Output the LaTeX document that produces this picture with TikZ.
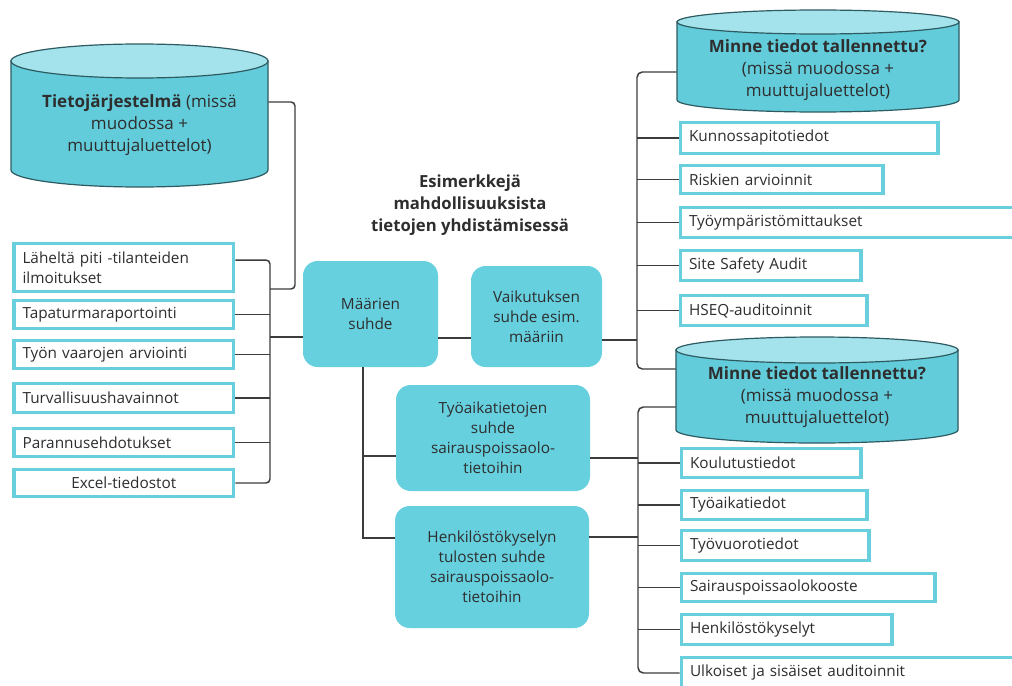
\documentclass[tikz,border=0pt]{standalone}
\usepackage{fontspec}
\setmainfont{Open Sans}
\definecolor{boxc}{HTML}{6ACFDD}
\definecolor{fillc}{HTML}{66D0DF}
\definecolor{cylbody}{HTML}{62CCDB}
\definecolor{cyltop}{HTML}{A5E3EC}
\definecolor{cylline}{HTML}{2D5B61}
\definecolor{txt}{HTML}{2E2E2E}
\definecolor{connc}{HTML}{3C3C3C}
\newcommand\drawcyl[5]{%
  \pgfmathsetmacro\cylrx{(#2-#1)*0.375}%
  \pgfmathsetmacro\cylry{#5*0.75}%
  \pgfmathsetmacro\cylcx{(#1+#2)/2}%
  \filldraw[cylstyle, fill=cylbody] (#1,#3) -- (#1,#4) arc[start angle=180, end angle=360, x radius=\cylrx pt, y radius=\cylry pt] -- (#2,#3) -- cycle;
  \filldraw[cylstyle, fill=cyltop] (\cylcx,#3) ellipse[x radius=\cylrx pt, y radius=\cylry pt];
}
\begin{document}
\begin{tikzpicture}[x=0.75pt,y=-0.75pt,
  every node/.style={text=txt, font=\fontsize{11.5}{15}\selectfont},
  conn/.style={draw=connc, line width=1.1pt},
  sbox/.style={draw=boxc, line width=2.5pt, fill=white, anchor=west, align=left, inner xsep=6.5pt, inner ysep=1pt, text width=#1},
  rbox/.style={fill=fillc, rounded corners=11pt, align=center, inner sep=0pt},
  cyltext/.style={align=center, font=\fontsize{12.75}{16.5}\selectfont, inner sep=0pt},
  cylstyle/.style={draw=cylline, line width=0.9pt}]
\useasboundingbox (0,0) rectangle (1012,685);
\clip (0,0) rectangle (1012,685);
\fill[white] (0,0) rectangle (1012,685);

% cylinders
\drawcyl{11}{268}{61}{170}{17}
\node[cyltext, minimum width=192.75pt] (cylL) at (139.5,125) {\textbf{Tietojärjestelmä} (missä\\muodossa +\\muuttujaluettelot)};
\drawcyl{677}{959}{22}{100}{12}
\node[cyltext, minimum width=211.5pt] (cyl1) at (818,70) {\textbf{Minne tiedot tallennettu?}\\(missä muodossa +\\muuttujaluettelot)};
\drawcyl{676}{958}{350}{430}{13}
\node[cyltext, minimum width=211.5pt] (cyl2) at (817,397) {\textbf{Minne tiedot tallennettu?}\\(missä muodossa +\\muuttujaluettelot)};

% left boxes
\node[sbox=151.8pt, minimum height=35.8pt] (b1) at (12.2,267.5) {Läheltä piti -tilanteiden\\ilmoitukset};
\node[sbox=151.8pt, minimum height=20.8pt] (b2) at (12.2,314.5) {Tapaturmaraportointi};
\node[sbox=151.8pt, minimum height=20.8pt] (b3) at (12.2,354.5) {Työn vaarojen arviointi};
\node[sbox=151.8pt, minimum height=21.5pt] (b4) at (12.2,398) {Turvallisuushavainnot};
\node[sbox=151.8pt, minimum height=20.8pt] (b5) at (12.2,442.5) {Parannusehdotukset};
\node[sbox=151.8pt, minimum height=20.3pt, align=center] (b6) at (12.2,483) {Excel-tiedostot};

% title
\node[font=\bfseries\fontsize{12.5}{16.5}\selectfont, align=center] (title) at (470,205) {Esimerkkejä\\mahdollisuuksista\\tietojen yhdistämisessä};

% rounded boxes
\node[rbox, minimum width=101.25pt, minimum height=79.5pt] (m) at (370.5,314) {Määrien\\suhde};
\node[rbox, minimum width=98.25pt, minimum height=75.75pt] (v) at (536.5,316.5) {Vaikutuksen\\suhde esim.\\määriin};
\node[rbox, minimum width=145.5pt, minimum height=79.5pt] (t) at (493,438) {Työaikatietojen\\suhde\\sairauspoissaolo-\\tietoihin};
\node[rbox, minimum width=145.5pt, minimum height=91.5pt] (h) at (492,567) {Henkilöstökyselyn\\tulosten suhde\\sairauspoissaolo-\\tietoihin};

% right boxes, upper
\node[sbox=180.3pt, minimum height=23pt] (k1) at (678.7,138) {Kunnossapitotiedot};
\node[sbox=139pt, minimum height=20.8pt] (k2) at (678.7,179.5) {Riskien arvioinnit};
\node[sbox=249.5pt, minimum height=22.3pt] (k3) at (678.7,222.5) {Työympäristömittaukset};
\node[sbox=122.5pt, minimum height=22.3pt] (k4) at (678.7,265.5) {Site Safety Audit};
\node[sbox=127pt, minimum height=22.3pt] (k5) at (678.7,310.5) {HSEQ-auditoinnit};

% right boxes, lower
\node[sbox=121.8pt, minimum height=21.5pt] (l1) at (679.7,463) {Koulutustiedot};
\node[sbox=126.3pt, minimum height=21.5pt] (l2) at (679.7,505) {Työaikatiedot};
\node[sbox=127.8pt, minimum height=22.3pt] (l3) at (679.7,545.5) {Työvuorotiedot};
\node[sbox=177.3pt, minimum height=20.8pt] (l4) at (679.7,587.5) {Sairauspoissaolokooste};
\node[sbox=145pt, minimum height=22.3pt] (l5) at (679.7,629.5) {Henkilöstökyselyt};
\node[sbox=249.5pt, minimum height=23pt] (l6) at (679.7,673) {Ulkoiset ja sisäiset auditoinnit};

% spine coordinates
\coordinate (sL) at (270,0);
\coordinate (jx) at (295,0);
\coordinate (sM) at (363,0);
\coordinate (sR1) at (637,0);
\coordinate (sR2) at (638,0);
\coordinate (jL) at (270,289);

% left bracket
\coordinate (b1c) at ([yshift=5.6pt]b1.east);
\draw[conn, rounded corners=3pt] (b1c) -- (b1c -| sL) -- (b6.east -| sL) -- (b6.east);
\foreach \n in {b2,b3,b4,b5} \draw[conn] (\n.east) -- (\n.east -| sL);
\coordinate (cLo) at ([yshift=17.25pt]cylL.east);
\draw[conn, rounded corners=3pt] (cLo) -- (cLo -| jx) |- (jL);

% centre
\coordinate (mL) at ([yshift=-17.25pt]m.west);
\draw[conn] (mL -| sL) -- (mL);
\coordinate (mR) at ([yshift=-18pt]m.east);
\draw[conn] (mR) -- (mR -| v.west);
\coordinate (vR) at ([yshift=-17.6pt]v.east);
\draw[conn] (vR) -- (vR -| sR1);
\coordinate (tL) at ([yshift=-13.5pt]t.west);
\coordinate (hL) at ([yshift=21.75pt]h.west);
\draw[conn] (sM |- m.south) |- (tL);
\draw[conn] (sM |- m.south) |- (hL);
\coordinate (tR) at ([yshift=-15pt]t.east);
\draw[conn] (tR) -- (tR -| sR2);
\coordinate (hR) at ([yshift=22.5pt]h.east);
\draw[conn] (hR) -- (hR -| sR2);

% upper right bracket
\coordinate (c1L) at ([yshift=-1.5pt]cyl1.west);
\coordinate (c2La) at ([yshift=21pt]cyl2.west);
\coordinate (c2Lb) at ([yshift=-7.5pt]cyl2.west);
\draw[conn, rounded corners=4pt] (c1L) -- (c1L -| sR1) -- (c2La -| sR1) -- (c2La);
\foreach \n in {k1,k2,k3,k4,k5} \draw[conn] (\n.west) -- (\n.west -| sR1);

% lower right bracket
\draw[conn, rounded corners=4pt] (c2Lb) -- (c2Lb -| sR2) -- (l6.west -| sR2) -- (l6.west);
\foreach \n in {l1,l2,l3,l4,l5} \draw[conn] (\n.west) -- (\n.west -| sR2);
\end{tikzpicture}
\end{document}
